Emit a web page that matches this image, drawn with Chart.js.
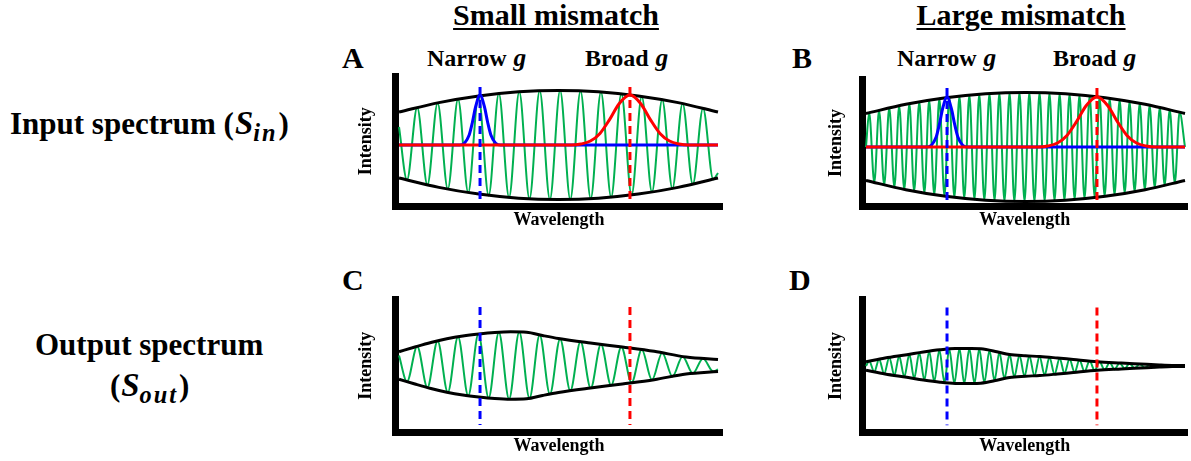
<!DOCTYPE html>
<html>
<head>
<meta charset="utf-8">
<script src="https://cdn.jsdelivr.net/npm/chart.js@4.4.1/dist/chart.umd.min.js"></script>
<style>
  body { margin: 0; width: 1191px; height: 461px; position: relative; overflow: hidden; background: #fff;
         font-family: 'Liberation Serif', 'Times New Roman', serif; font-weight: bold; color: #000; }
  .t { position: absolute; white-space: nowrap; line-height: 1; }
  .head { font-size: 30px; text-decoration: underline; text-decoration-thickness: 2px; text-underline-offset: 3px; transform: translateX(-50%); }
  .letter { font-size: 30px; }
  .gname { font-size: 24px; }
  .row { font-size: 31px; }
  .m { font-style: italic; font-size: 1.06em; padding: 0 1px; }
  .m sub { font-size: 0.74em; vertical-align: -0.3em; letter-spacing: 2px; }
  canvas { position: absolute; }
</style>
</head>
<body>
<div class="t head" style="left:556px;top:0px">Small mismatch</div>
<div class="t head" style="left:1021px;top:0px">Large mismatch</div>
<div class="t letter" style="left:342px;top:43px">A</div>
<div class="t letter" style="left:792px;top:43px">B</div>
<div class="t letter" style="left:342px;top:265px">C</div>
<div class="t letter" style="left:789px;top:265px">D</div>
<div class="t gname" style="left:427px;top:45px">Narrow <span class="m">g</span></div>
<div class="t gname" style="left:585px;top:45px">Broad <span class="m">g</span></div>
<div class="t gname" style="left:897px;top:45px">Narrow <span class="m">g</span></div>
<div class="t gname" style="left:1053px;top:45px">Broad <span class="m">g</span></div>
<div class="t row" style="left:10px;top:107px">Input spectrum (<span class="m">S<sub>in</sub></span>)</div>
<div class="t row" style="left:35px;top:329px">Output spectrum</div>
<div class="t row" style="left:110px;top:369px">(<span class="m">S<sub>out</sub></span>)</div>

<canvas id="chartA"></canvas>
<canvas id="chartB"></canvas>
<canvas id="chartC"></canvas>
<canvas id="chartD"></canvas>

<script>
// wavelength positions of the carrier extrema (0-100 across each plot)
const slowX = [0, 2.5, 5.7, 8.9, 12.1, 15.3, 18.5, 21.7, 24.9, 28.1, 31.3, 34.5, 37.7, 40.9, 44.1, 47.3, 50.5,
  53.7, 56.9, 60.1, 63.3, 66.5, 69.7, 72.9, 76.1, 79.3, 82.5, 85.7, 88.9, 92.1, 95.3, 98.5, 100];
const fastX = [0, 1.0, 2.6, 4.1, 5.7, 7.3, 8.9, 10.4, 12.0, 13.6, 15.1, 16.7, 18.3, 19.8, 21.4, 23.0, 24.6,
  26.1, 27.7, 29.3, 30.8, 32.4, 34.0, 35.5, 37.1, 38.7, 40.3, 41.8, 43.4, 45.0, 46.5, 48.1, 49.7, 51.2, 52.8,
  54.4, 56.0, 57.5, 59.1, 60.7, 62.2, 63.8, 65.4, 66.9, 68.5, 70.1, 71.7, 73.2, 74.8, 76.4, 77.9, 79.5, 81.1,
  82.6, 84.2, 85.8, 87.4, 88.9, 90.5, 92.1, 93.6, 95.2, 96.8, 98.3, 100];

// green spectra, intensity relative to the centre line
const greenA = [1.8, -3.5, 3.76, -4.0, 4.21, -4.41, 4.6, -4.76, 4.91, -5.04, 5.15, -5.24, 5.32, -5.38, 5.42,
  -5.44, 5.45, -5.44, 5.41, -5.36, 5.3, -5.22, 5.12, -5.0, 4.86, -4.71, 4.54, -4.35, 4.15, -3.93, 3.68, -3.43, -2.8];
const greenB = [0, 3.43, -3.56, 3.68, -3.8, 3.92, -4.03, 4.13, -4.24, 4.34, -4.43, 4.52, -4.61, 4.68, -4.76,
  4.84, -4.91, 4.97, -5.03, 5.09, -5.14, 5.19, -5.24, 5.27, -5.31, 5.34, -5.37, 5.39, -5.41, 5.43, -5.44, 5.45,
  -5.45, 5.45, -5.44, 5.43, -5.42, 5.4, -5.38, 5.35, -5.33, 5.29, -5.25, 5.21, -5.16, 5.11, -5.05, 5.0, -4.93,
  4.86, -4.8, 4.72, -4.64, 4.56, -4.47, 4.37, -4.28, 4.18, -4.07, 3.96, -3.85, 3.73, -3.61, 3.49, 0];
const greenC = [1.0, -1.61, 1.91, -2.2, 2.46, -2.69, 2.87, -3.02, 3.15, -3.24, 3.32, -3.36, 3.35, -3.27, 3.06,
  -2.86, 2.66, -2.53, 2.39, -2.25, 2.12, -1.99, 1.86, -1.72, 1.59, -1.45, 1.28, -1.1, 0.91, -0.79, 0.7, -0.6, -0.4];
const greenD = [0, 0.49, -0.59, 0.68, -0.78, 0.86, -0.94, 1.01, -1.09, 1.17, -1.25, 1.33, -1.41, 1.48, -1.54,
  1.61, -1.66, 1.69, -1.73, 1.74, -1.75, 1.75, -1.74, 1.72, -1.66, 1.56, -1.47, 1.37, -1.26, 1.14, -1.1, 1.07,
  -1.02, 1.0, -0.98, 0.95, -0.91, 0.87, -0.82, 0.78, -0.73, 0.69, -0.64, 0.6, -0.55, 0.5, -0.46, 0.42, -0.39,
  0.36, -0.34, 0.31, -0.28, 0.26, -0.23, 0.2, -0.18, 0.15, -0.12, 0.1, -0.08, 0.06, -0.05, 0.04, 0];

// envelopes (half height)
const envInX = [0, 12.5, 25, 37.5, 50, 62.5, 75, 87.5, 100];
const envA = [3.3, 4.24, 4.91, 5.32, 5.45, 5.32, 4.91, 4.24, 3.3];
const envB = [3.35, 4.27, 4.93, 5.32, 5.45, 5.32, 4.93, 4.27, 3.35];
const envCX = [0, 5, 10, 15, 20, 25, 30, 35, 40, 45, 50, 60, 70, 80, 90, 100];
const envC = [1.37, 1.85, 2.3, 2.67, 2.95, 3.15, 3.3, 3.37, 3.33, 3.0, 2.7, 2.25, 1.85, 1.42, 0.85, 0.6];
const envDX = [0, 6, 12.8, 18, 23.2, 28, 33, 36, 41, 45, 50, 54.5, 60, 65, 72.6, 80, 86, 92, 96, 100];
const envD = [0.43, 0.8, 1.13, 1.4, 1.62, 1.74, 1.75, 1.72, 1.43, 1.14, 1.02, 0.95, 0.8, 0.65, 0.43, 0.3, 0.2, 0.1, 0.05, 0.04];

// filter functions g
const narrowX = [0, 19, 20.5, 22, 23, 24, 25.4, 26.8, 27.8, 28.8, 30.3, 31.8, 100];
const narrowY = [0, 0, 0.18, 1.0, 2.25, 3.8, 5.0, 3.8, 2.25, 1.0, 0.18, 0, 0];
const broadX = [0, 54, 57, 60, 63, 66, 69, 72.4, 75.8, 78.8, 81.8, 84.8, 87.8, 90.8, 100];
const broadY = [0, 0, 0.1, 0.4, 1.16, 2.54, 4.13, 5.0, 4.13, 2.54, 1.16, 0.4, 0.1, 0, 0];
const narrowCentre = 25.4;
const broadCentre = 72.4;

const GREEN = '#00b050';
const BLUE = '#0000ff';
const RED = '#ff0000';

function pts(xs, ys, sign) {
    const n = Math.min(xs.length, ys.length);
    const out = [];
    for (let i = 0; i < n; i++) out.push({x: xs[i], y: (sign || 1) * ys[i]});
    return out;
}

function curve(data, color, width, order) {
    return {data: data, borderColor: color, borderWidth: width, pointRadius: 0,
        cubicInterpolationMode: 'monotone', fill: false, order: order};
}

function dashed(x, top, bottom, color) {
    return {data: [{x: x, y: top}, {x: x, y: bottom}], borderColor: color, borderWidth: 3,
        borderDash: [8, 5], pointRadius: 0, tension: 0, fill: false, order: 1};
}

const axisFont = {family: 'Liberation Serif', size: 18, weight: 'bold'};

function makeChart(p) {
    const canvas = document.getElementById(p.id);
    const a = p.area;
    const cl = Math.floor(a.left) - 60;
    const ct = Math.floor(a.top) - 16;
    const cr = Math.ceil(a.right) + 8;
    const cb = Math.ceil(a.bottom) + 34;
    canvas.width = cr - cl;
    canvas.height = cb - ct;
    canvas.style.left = cl + 'px';
    canvas.style.top = ct + 'px';

    const yw = 55.5;
    const xh = cb - a.bottom;
    const xPadBottom = xh - 14 - 10.8;

    const datasets = [
        curve(pts(p.gx, p.green), GREEN, 2, 7),
        curve(pts(p.ex, p.env), '#000', 3, 6),
        curve(pts(p.ex, p.env, -1), '#000', 3, 6)
    ];
    if (p.filters) {
        datasets.push(curve(pts(narrowX, narrowY), BLUE, 3, 5));
        datasets.push(curve(pts(broadX, broadY), RED, 3, 4));
    }
    datasets.push(dashed(narrowCentre, p.dash[0], p.dash[1], BLUE));
    datasets.push(dashed(broadCentre, p.dash[0], p.dash[1], RED));

    new Chart(canvas, {
        type: 'line',
        data: {datasets: datasets},
        options: {
            responsive: false,
            animation: false,
            events: [],
            layout: {padding: {left: a.left - yw - cl, top: a.top - ct, right: cr - a.right, bottom: 0}},
            plugins: {legend: {display: false}, tooltip: {enabled: false}},
            scales: {
                x: {
                    type: 'linear', min: p.xr[0], max: p.xr[1],
                    ticks: {display: false},
                    grid: {display: false, drawTicks: false},
                    border: {display: true, width: 7, color: '#000'},
                    title: {display: true, text: 'Wavelength', color: '#000', font: axisFont,
                        padding: {top: xh - 21.6 - xPadBottom, bottom: xPadBottom}}
                },
                y: {
                    type: 'linear', min: p.yr[0], max: p.yr[1],
                    ticks: {display: false},
                    grid: {display: false, drawTicks: false},
                    border: {display: true, width: 7, color: '#000'},
                    title: {display: true, text: 'Intensity', color: '#000', font: axisFont,
                        padding: {top: yw - p.titleOff - 10.8, bottom: p.titleOff - 10.8}}
                }
            }
        }
    });
}

const panels = [
    {id: 'chartA', area: {left: 395.5, right: 722.5, top: 76.5, bottom: 206}, xr: [-1.1, 101.41], yr: [-6.1, 6.85],
        titleOff: 29.5, gx: slowX, green: greenA, ex: envInX, env: envA, filters: true, dash: [5.8, -5.7]},
    {id: 'chartB', area: {left: 862, right: 1187.5, top: 79.5, bottom: 206.5}, xr: [-1.25, 100.78], yr: [-5.95, 6.75],
        titleOff: 26, gx: fastX, green: greenB, ex: envInX, env: envB, filters: true, dash: [5.9, -5.6]},
    {id: 'chartC', area: {left: 395.5, right: 722.5, top: 299.5, bottom: 432}, xr: [-1.1, 101.41], yr: [-6.65, 6.6],
        titleOff: 29.5, gx: slowX, green: greenC, ex: envCX, env: envC, filters: false, dash: [5.85, -5.95]},
    {id: 'chartD', area: {left: 862, right: 1187.5, top: 299.5, bottom: 432.5}, xr: [-1.25, 100.78], yr: [-6.65, 6.65],
        titleOff: 26, gx: fastX, green: greenD, ex: envDX, env: envD, filters: false, dash: [5.84, -5.93]}
];

panels.forEach(makeChart);
</script>
</body>
</html>
